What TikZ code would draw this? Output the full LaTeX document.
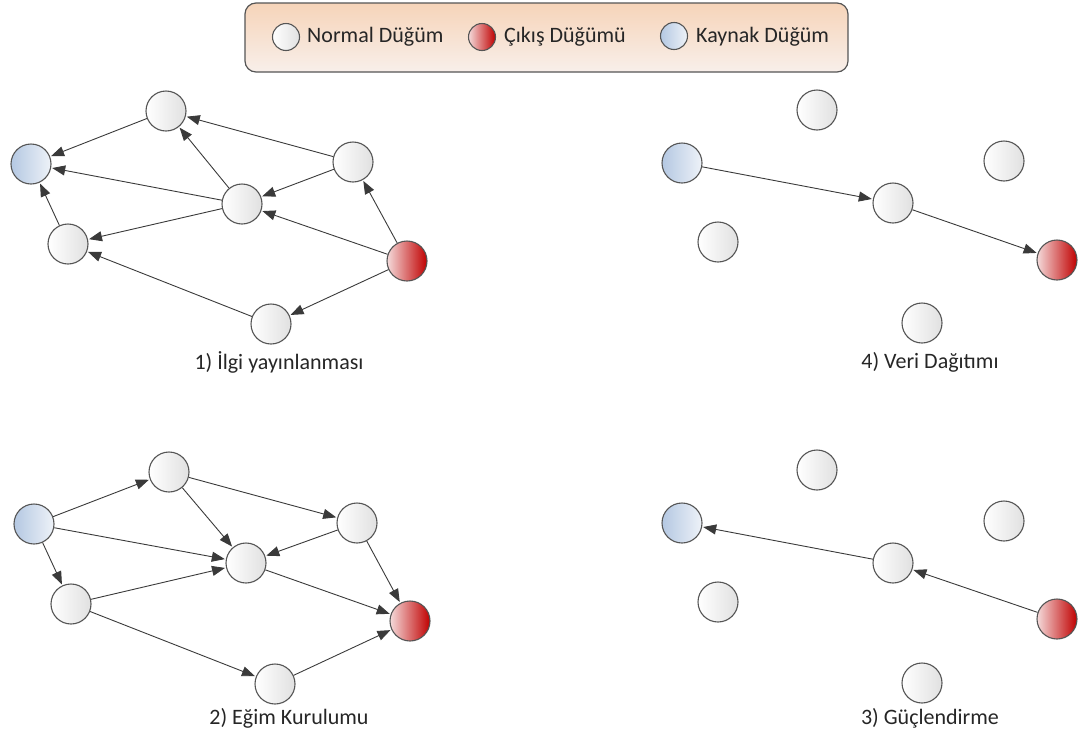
\documentclass[tikz,border=0pt]{standalone}
\usepackage{fontspec}
\setmainfont{Carlito}
\usetikzlibrary{arrows.meta,shadows}
\definecolor{edgegray}{HTML}{3A3A3A}
\definecolor{rimgray}{HTML}{555555}
\definecolor{srcblue}{HTML}{B4C8E2}
\definecolor{srclight}{HTML}{EEF2F8}
\definecolor{outred}{HTML}{C00000}
\definecolor{outlight}{HTML}{F4DADA}
\definecolor{legtop}{HTML}{F6D4B9}
\definecolor{legbot}{HTML}{F8EFEA}
\tikzset{
  nd/.style={circle, minimum size=40pt, inner sep=0pt, draw=rimgray, line width=1.1pt,
             left color=white, right color=black!12},
  src/.style={nd, left color=srcblue, right color=srclight},
  sink/.style={nd, left color=outlight, right color=outred},
  lnd/.style={circle, minimum size=27pt, inner sep=0pt, draw=rimgray, line width=1.1pt,
             left color=white, right color=black!12},
  arr/.style={draw=edgegray, line width=0.9pt, -{Triangle[length=13pt,width=10pt]},
              shorten >=1pt},
  steplabel/.style={font=\fontsize{22}{26}\selectfont, text=black!85, inner sep=0pt},
  legtxt/.style={font=\fontsize{22}{26}\selectfont, text=black!85, anchor=west, inner sep=0pt}
}
\begin{document}
\begin{tikzpicture}[x=1pt,y=-1pt]
\useasboundingbox (0,0) rectangle (1078,737);

% legend
\node[draw=rimgray, line width=1.2pt, rounded corners=11pt, top color=legtop, bottom color=legbot,
      minimum width=603pt, minimum height=69pt, inner sep=0pt] (leg) at (546.5,37.5) {};
\node[lnd] (lnormal) at (286,37) {};
\node[legtxt] (tnormal) at (307,37) {Normal Düğüm};
\node[lnd, left color=outlight, right color=outred] (lout) at (482,37) {};
\node[legtxt] (tout) at (504,37) {Çıkış Düğümü};
\node[lnd, left color=srcblue, right color=srclight] (lsrc) at (674,36) {};
\node[legtxt] (tsrc) at (696,37) {Kaynak Düğüm};

% 1) interest propagation
\node[nd]  (a1) at (166,111) {};
\node[src] (s1) at (31,164) {};
\node[nd]  (b1) at (353,162) {};
\node[nd]  (c1) at (242,204) {};
\node[nd]  (d1) at (68,244) {};
\node[sink] (r1) at (407,261) {};
\node[nd]  (e1) at (271,324) {};
\draw[arr] (a1) -- (s1);
\draw[arr] (b1) -- (a1);
\draw[arr] (c1) -- (a1);
\draw[arr] (c1) -- (s1);
\draw[arr] (b1) -- (c1);
\draw[arr] (r1) -- (b1);
\draw[arr] (r1) -- (c1);
\draw[arr] (c1) -- (d1);
\draw[arr] (d1) -- (s1);
\draw[arr] (e1) -- (d1);
\draw[arr] (r1) -- (e1);
\node[steplabel] (t1) at (279,362) {1) İlgi yayınlanması};

% 2) gradient setup
\node[nd]  (a2) at (169,472) {};
\node[src] (s2) at (34,524) {};
\node[nd]  (b2) at (357,523) {};
\node[nd]  (c2) at (246,563) {};
\node[nd]  (d2) at (71,604) {};
\node[sink] (r2) at (410,621) {};
\node[nd]  (e2) at (275,684) {};
\draw[arr] (s2) -- (a2);
\draw[arr] (a2) -- (b2);
\draw[arr] (a2) -- (c2);
\draw[arr] (s2) -- (c2);
\draw[arr] (b2) -- (c2);
\draw[arr] (s2) -- (d2);
\draw[arr] (d2) -- (c2);
\draw[arr] (c2) -- (r2);
\draw[arr] (b2) -- (r2);
\draw[arr] (d2) -- (e2);
\draw[arr] (e2) -- (r2);
\node[steplabel] (t2) at (289,718) {2) Eğim Kurulumu};

% 4) data delivery
\node[nd]  (a4) at (817,110) {};
\node[src] (s4) at (682,163) {};
\node[nd]  (b4) at (1004,161) {};
\node[nd]  (c4) at (893,203) {};
\node[nd]  (d4) at (718,242) {};
\node[sink] (r4) at (1057,260) {};
\node[nd]  (e4) at (922,323) {};
\draw[arr] (s4) -- (c4);
\draw[arr] (c4) -- (r4);
\node[steplabel] (t4) at (930,362) {4) Veri Dağıtımı};

% 3) reinforcement
\node[nd]  (a3) at (817,470) {};
\node[src] (s3) at (682,523) {};
\node[nd]  (b3) at (1004,521) {};
\node[nd]  (c3) at (893,563) {};
\node[nd]  (d3) at (718,602) {};
\node[sink] (r3) at (1057,619) {};
\node[nd]  (e3) at (922,683) {};
\draw[arr] (c3) -- (s3);
\draw[arr] (r3) -- (c3);
\node[steplabel] (t3) at (930,718) {3) Güçlendirme};
\end{tikzpicture}
\end{document}
